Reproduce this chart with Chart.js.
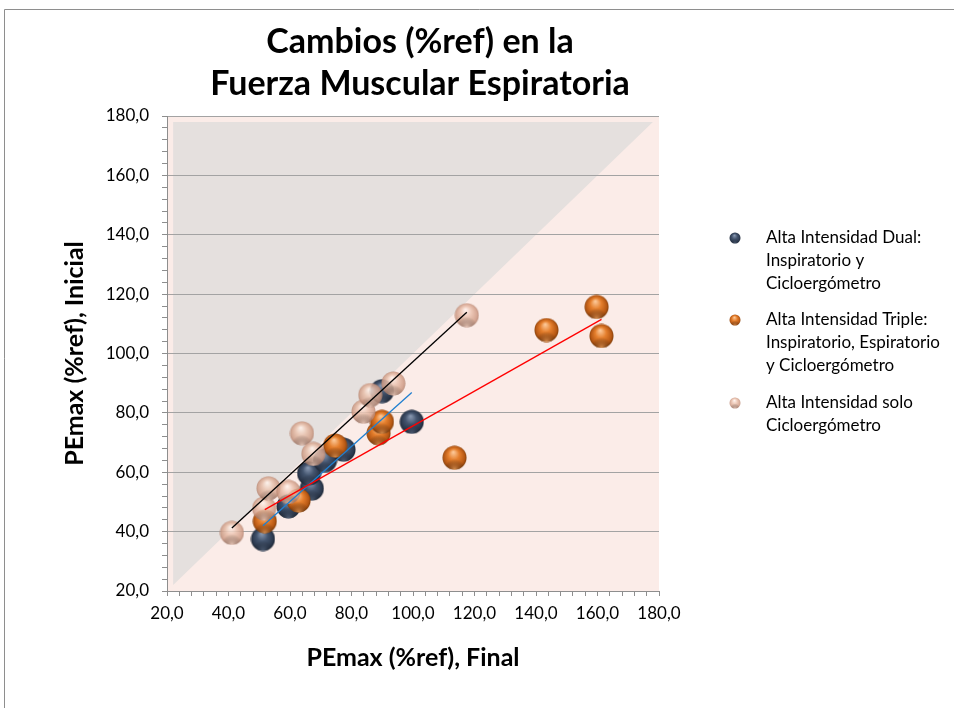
<!DOCTYPE html>
<html>
<head>
<meta charset="utf-8">
<script src="https://cdn.jsdelivr.net/npm/chart.js@4.4.1/dist/chart.umd.min.js"></script>
<style>
  html, body { margin: 0; padding: 0; background: #ffffff; }
  #wrap { position: relative; width: 954px; height: 708px; }
</style>
</head>
<body>
<div id="wrap"><canvas id="chart" width="954" height="708"></canvas></div>
<script>
// ---- Data: PEmax (%ref) final (x) vs initial (y) per training group ----
const groupNames = [
  ['Alta Intensidad Dual:', 'Inspiratorio y', 'Cicloergómetro'],
  ['Alta Intensidad Triple:', 'Inspiratorio, Espiratorio', 'y Cicloergómetro'],
  ['Alta Intensidad solo', 'Cicloergómetro']
];
const dualFinal    = [51.2, 59.5, 67.1, 66.2, 71.4, 77.4, 99.6, 89.9];
const dualInicial  = [37.5, 48.5, 54.5, 59.6, 64.0, 67.6, 77.0, 87.3];
const tripleFinal   = [51.8, 62.8, 74.7, 88.8, 89.9, 113.5, 143.4, 159.7, 161.3];
const tripleInicial = [43.5, 50.5, 69.0, 73.1, 77.0, 64.9, 107.9, 115.7, 105.9];
const soloFinal   = [41.1, 51.6, 53.0, 59.5, 63.9, 67.6, 83.9, 86.1, 93.6, 117.5];
const soloInicial = [39.6, 47.8, 54.6, 53.4, 73.1, 66.2, 80.4, 86.0, 89.9, 112.9];

// Axis range and tick spacing (same for both axes)
const axisMin = 20, axisMax = 180, labelStep = 20, minorStep = 4;
// Shaded region above the identity line (initial > final)
const shadeX = [22, 22, 178];
const shadeY = [22, 178, 178];

const chartTitle = ['Cambios (%ref) en la', 'Fuerza Muscular Espiratoria'];
const xTitle = 'PEmax (%ref), Final';
const yTitle = 'PEmax (%ref), Inicial';

// ---- helpers ----
const toPoints = (xs, ys) => xs.map((x, i) => ({ x, y: ys[i] }));

// Least-squares linear trend spanning the series' x range
function trend(xs, ys) {
  const n = xs.length;
  const mx = xs.reduce((a, b) => a + b, 0) / n;
  const my = ys.reduce((a, b) => a + b, 0) / n;
  let sxy = 0, sxx = 0;
  for (let i = 0; i < n; i++) { sxy += (xs[i] - mx) * (ys[i] - my); sxx += (xs[i] - mx) ** 2; }
  const b = sxy / sxx, a = my - b * mx;
  const x0 = Math.min(...xs), x1 = Math.max(...xs);
  return [{ x: x0, y: a + b * x0 }, { x: x1, y: a + b * x1 }];
}

// Shaded sphere bitmap used as the point marker
function makeSphere(d, c) {
  const cv = document.createElement('canvas');
  cv.width = d; cv.height = d;
  const g = cv.getContext('2d');
  const r = d / 2;
  g.globalAlpha = c.alpha || 1;
  const grad = g.createRadialGradient(r * 0.9, r * 0.55, r * 0.04, r, r, r);
  grad.addColorStop(0, c.hi);
  grad.addColorStop(0.42, c.base);
  grad.addColorStop(0.82, c.shade);
  grad.addColorStop(1, c.rim);
  g.beginPath();
  g.arc(r, r, r - 0.5, 0, Math.PI * 2);
  g.fillStyle = grad;
  g.fill();
  g.save();
  g.clip();
  const glow = g.createRadialGradient(r, d * 0.98, 0, r, d * 0.98, r * 0.85);
  glow.addColorStop(0, c.glow);
  glow.addColorStop(1, 'rgba(0,0,0,0)');
  g.fillStyle = glow;
  g.fillRect(0, 0, d, d);
  g.restore();
  return cv;
}

const palette = {
  dual:   { hi: '#8797b0', base: '#44556f', shade: '#2c394e', rim: '#1b2432', glow: 'rgba(120,140,170,0.55)' },
  triple: { hi: '#fcc796', base: '#e57f2d', shade: '#b75814', rim: '#7a3a08', glow: 'rgba(252,175,105,0.75)' },
  solo:   { hi: '#fff1ea', base: '#eac1ad', shade: '#cf9c86', rim: '#ad7d6a', glow: 'rgba(255,226,212,0.75)', alpha: 0.85 }
};
const sphereSize = 25, legendSphereSize = 12;
const markers = {
  dual: makeSphere(sphereSize, palette.dual),
  triple: makeSphere(sphereSize, palette.triple),
  solo: makeSphere(sphereSize, palette.solo)
};
const legendMarkers = [
  makeSphere(legendSphereSize, palette.dual),
  makeSphere(legendSphereSize, palette.triple),
  makeSphere(legendSphereSize, palette.solo)
];

const fontFamily = 'Lato, "Open Sans", sans-serif';
const axisGray = '#8e8e8e';
const gridGray = '#a3a3a3';

// Frame, plot background and the shaded triangle
const backdrop = {
  id: 'backdrop',
  beforeDraw(chart) {
    const { ctx, chartArea: a, scales: { x, y } } = chart;
    ctx.save();
    ctx.fillStyle = '#ffffff';
    ctx.fillRect(0, 0, chart.width, chart.height);
    ctx.strokeStyle = axisGray;
    ctx.lineWidth = 1;
    ctx.beginPath();
    ctx.moveTo(4.5, chart.height);
    ctx.lineTo(4.5, 9.5);
    ctx.lineTo(chart.width, 9.5);
    ctx.stroke();
    ctx.fillStyle = '#fbece8';
    ctx.fillRect(a.left, a.top, a.right - a.left, a.bottom - a.top);
    ctx.fillStyle = '#e5e0de';
    ctx.beginPath();
    shadeX.forEach((v, i) => {
      const px = x.getPixelForValue(v), py = y.getPixelForValue(shadeY[i]);
      if (i === 0) ctx.moveTo(px, py); else ctx.lineTo(px, py);
    });
    ctx.closePath();
    ctx.fill();
    ctx.restore();
  }
};

// Two-line chart title and the multi-line legend on the right
const annotations = {
  id: 'annotations',
  afterDraw(chart) {
    const { ctx } = chart;
    ctx.save();
    ctx.fillStyle = '#000000';
    ctx.textAlign = 'center';
    ctx.textBaseline = 'middle';
    ctx.font = `bold 34px ${fontFamily}`;
    chartTitle.forEach((t, i) => ctx.fillText(t, 420, 42 + i * 42));

    ctx.textAlign = 'left';
    ctx.font = `17px ${fontFamily}`;
    const entryTops = [238, 320, 403];
    groupNames.forEach((lines, i) => {
      const m = legendMarkers[i];
      ctx.drawImage(m, 735 - m.width / 2, entryTops[i] - m.height / 2);
      lines.forEach((t, j) => ctx.fillText(t, 766, entryTops[i] + j * 23));
    });
    ctx.restore();
  }
};

const tickLabel = v => (v % labelStep === 0 ? v.toFixed(1).replace('.', ',') : '');

new Chart(document.getElementById('chart'), {
  type: 'scatter',
  data: {
    datasets: [
      { type: 'line', data: trend(soloFinal, soloInicial), borderColor: '#000000', borderWidth: 1.3,
        pointRadius: 0, showLine: true, fill: false, order: 0 },
      { type: 'line', data: trend(tripleFinal, tripleInicial), borderColor: '#ff0000', borderWidth: 1.3,
        pointRadius: 0, showLine: true, fill: false, order: 0 },
      { type: 'line', data: trend(dualFinal, dualInicial), borderColor: '#1f7fd0', borderWidth: 1.3,
        pointRadius: 0, showLine: true, fill: false, order: 0 },
      { label: groupNames[2].join(' '), data: toPoints(soloFinal, soloInicial),
        pointStyle: markers.solo, order: 1 },
      { label: groupNames[1].join(' '), data: toPoints(tripleFinal, tripleInicial),
        pointStyle: markers.triple, order: 2 },
      { label: groupNames[0].join(' '), data: toPoints(dualFinal, dualInicial),
        pointStyle: markers.dual, order: 3 }
    ]
  },
  options: {
    responsive: false,
    animation: false,
    events: [],
    layout: { padding: { top: 116, right: 295, left: 0, bottom: 0 } },
    plugins: { legend: { display: false }, title: { display: false }, tooltip: { enabled: false } },
    scales: {
      x: {
        type: 'linear', min: axisMin, max: axisMax,
        ticks: { stepSize: minorStep, autoSkip: false, maxRotation: 0, padding: 7,
                 color: '#000000', font: { family: fontFamily, size: 17 }, callback: tickLabel },
        grid: { color: 'rgba(0,0,0,0)', tickColor: axisGray, tickLength: 5, lineWidth: 1 },
        border: { color: axisGray, width: 1 },
        title: { display: true, text: xTitle, color: '#000000',
                 font: { family: fontFamily, size: 25, weight: 'bold' }, padding: { top: 0, bottom: 35 } },
        afterFit(s) { s.height = 117; }
      },
      y: {
        type: 'linear', min: axisMin, max: axisMax,
        ticks: { stepSize: minorStep, autoSkip: false, padding: 13,
                 color: '#000000', font: { family: fontFamily, size: 17 }, callback: tickLabel },
        grid: {
          color: c => (c.tick && c.tick.value % labelStep === 0 ? gridGray : 'rgba(0,0,0,0)'),
          tickColor: axisGray, tickLength: 5, lineWidth: 1
        },
        border: { color: axisGray, width: 1 },
        title: { display: true, text: yTitle, color: '#000000',
                 font: { family: fontFamily, size: 25, weight: 'bold' }, padding: { top: 60, bottom: 0 } },
        afterFit(s) { s.width = 167; }
      }
    }
  },
  plugins: [backdrop, annotations]
});
</script>
</body>
</html>
